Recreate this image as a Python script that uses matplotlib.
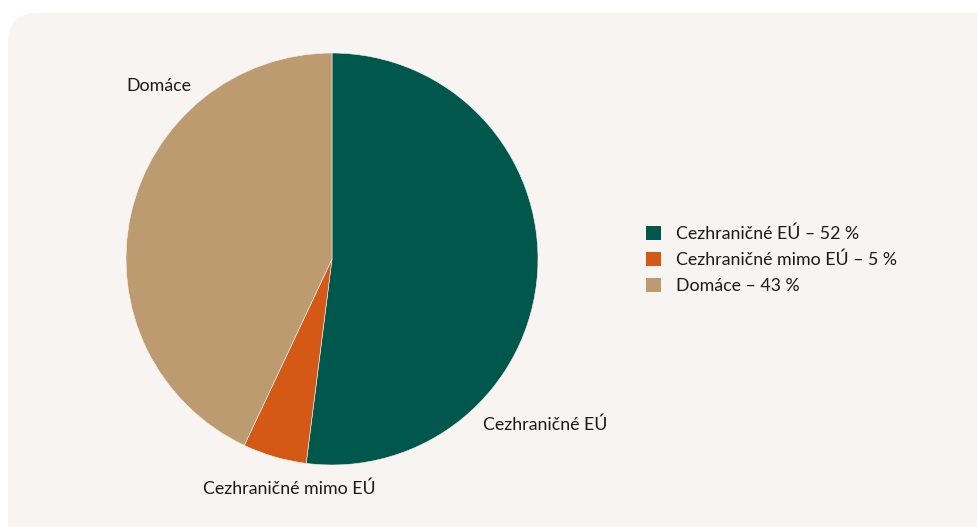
import matplotlib.pyplot as plt
from matplotlib.patches import FancyBboxPatch, Patch

labels = ["Cezhraničné EÚ", "Cezhraničné mimo EÚ", "Domáce"]
shares = [52, 5, 43]
colors = ["#00584c", "#d45816", "#bd9b70"]
legend_labels = [f"{l} – {s} %" for l, s in zip(labels, shares)]

plt.rcParams['font.family'] = ['Lato', 'DejaVu Sans']

W, H = 978, 527
fig = plt.figure(figsize=(W / 100, H / 100), dpi=100, facecolor="white")

# panel background with rounded corner
panel = FancyBboxPatch((8 / W, -0.1), 1.1, (H - 13) / H + 0.1,
                       boxstyle="round,pad=0,rounding_size=0.03",
                       transform=fig.transFigure, facecolor="#f7f4f1",
                       edgecolor="none", mutation_aspect=W / H, zorder=-10)
fig.patches.append(panel)

# pie: center (332, 259) px, radius 206 px
cx, cy, r = 332, 259, 206
ax = fig.add_axes([(cx - r) / W, (H - cy - r) / H, 2 * r / W, 2 * r / H])
ax.pie(shares, colors=colors, startangle=90, counterclock=False, radius=1,
       wedgeprops=dict(linewidth=0.4, edgecolor="#f7f4f1"))
ax.set_xlim(-1, 1)
ax.set_ylim(-1, 1)
ax.set_aspect("equal")
ax.axis("off")


def px2d(px, py):
    return (px - cx) / r, (cy - py) / r


label_pos = [(483, 425), (203, 489), (126, 86)]
for lab, (px, py) in zip(labels, label_pos):
    x, y = px2d(px, py)
    ax.text(x, y, lab, ha="left", va="center", fontsize=12.8, color="#1a1a1a",
            clip_on=False)

handles = [Patch(facecolor=c, edgecolor="none") for c in colors]
fig.legend(handles, legend_labels, loc="center left",
           bbox_to_anchor=(630 / W, (H - 260) / H), frameon=False,
           fontsize=12.8, handlelength=0.85, handleheight=0.85,
           handletextpad=0.85, labelspacing=0.55, labelcolor="#1a1a1a")

fig.savefig("out.png", dpi=100, facecolor="white")
